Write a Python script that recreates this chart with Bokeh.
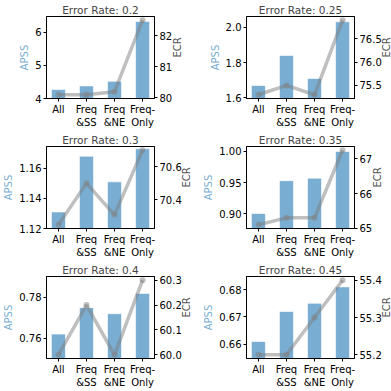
import math
from bokeh.plotting import figure
from bokeh.layouts import gridplot
from bokeh.models import Range1d, LinearAxis, FixedTicker, NumeralTickFormatter
from bokeh.embed import file_html
from bokeh.resources import INLINE

methods = ["All", "Freq\n&SS", "Freq\n&NE", "Freq-\nOnly"]
error_rates = ["0.2", "0.25", "0.3", "0.35", "0.4", "0.45"]

apss_02 = [4.27, 4.38, 4.52, 6.33]
apss_025 = [1.67, 1.84, 1.71, 2.03]
apss_03 = [1.131, 1.168, 1.151, 1.173]
apss_035 = [0.900, 0.953, 0.957, 1.000]
apss_04 = [0.762, 0.775, 0.772, 0.782]
apss_045 = [0.661, 0.672, 0.675, 0.681]

ecr_02 = [80.1, 80.1, 80.2, 82.5]
ecr_025 = [75.3, 75.5, 75.3, 76.9]
ecr_03 = [70.25, 70.50, 70.31, 70.70]
ecr_035 = [65.1, 65.3, 65.3, 67.25]
ecr_04 = [60.0, 60.2, 60.0, 60.3]
ecr_045 = [55.2, 55.2, 55.3, 55.4]

apss_all = [apss_02, apss_025, apss_03, apss_035, apss_04, apss_045]
ecr_all = [ecr_02, ecr_025, ecr_03, ecr_035, ecr_04, ecr_045]

apss_limits = [(4.0, 6.48), (1.597, 2.06), (1.12, 1.1745), (0.876, 1.008), (0.75, 0.7903), (0.6548, 0.6848)]
apss_ticks = [[4, 5, 6], [1.6, 1.8, 2.0], [1.12, 1.14, 1.16], [0.90, 0.95, 1.00], [0.76, 0.78], [0.66, 0.67, 0.68]]
ecr_ticks = [[80, 81, 82], [75.5, 76.0, 76.5], [70.4, 70.6], [65, 66, 67], [60.0, 60.1, 60.2, 60.3], [55.2, 55.3, 55.4]]
apss_fmt = ["0", "0.0", "0.00", "0.00", "0.00", "0.00"]
ecr_fmt = ["0", "0.0", "0.0", "0", "0.0", "0.0"]

FONT = "DejaVu Sans"
BAR_BLUE = "#1f77b4"
LABEL_BLUE = "#79add2"
FRAME_W = 108
FRAME_H = 82


def style_axis(ax):
    ax.major_label_text_font = FONT
    ax.major_label_text_font_size = "10px"
    ax.major_label_text_color = "black"
    ax.axis_label_text_font = FONT
    ax.axis_label_text_font_size = "10px"
    ax.axis_label_text_font_style = "normal"
    ax.axis_line_color = "black"
    ax.axis_line_width = 1
    ax.major_tick_line_color = "black"
    ax.major_tick_out = 3
    ax.major_tick_in = 0
    ax.minor_tick_line_color = None
    ax.major_label_standoff = 2
    ax.axis_label_standoff = 2


def make_panel(i, left_border, right_border):
    apss = apss_all[i]
    ecr = ecr_all[i]
    xs = list(range(len(methods)))
    lo, hi = apss_limits[i]
    emin, emax = min(ecr), max(ecr)
    pad = 0.05 * (emax - emin)
    p = figure(frame_width=FRAME_W, frame_height=FRAME_H, output_backend="svg", toolbar_location=None,
               x_range=Range1d(-0.425, 3.425), y_range=Range1d(lo, hi),
               min_border_left=left_border, min_border_right=right_border,
               min_border_top=15, min_border_bottom=28)
    p.title.text = "Error Rate: " + error_rates[i]
    p.title.align = "center"
    p.title.text_font = FONT
    p.title.text_font_size = "10.5px"
    p.title.text_font_style = "normal"
    p.title.standoff = 2
    p.xgrid.visible = False
    p.ygrid.visible = False
    p.outline_line_color = "black"
    p.outline_line_width = 1
    p.background_fill_color = "white"
    p.border_fill_color = "white"

    p.vbar(x=xs, top=apss, bottom=0, width=0.5, fill_color=BAR_BLUE, fill_alpha=0.6,
           line_color="white", line_alpha=0.6, line_width=1)

    p.extra_y_ranges = {"ecr": Range1d(emin - pad, emax + pad)}
    p.line(xs, ecr, y_range_name="ecr", line_color="gray", line_alpha=0.5, line_width=3.5)
    p.scatter(xs, ecr, y_range_name="ecr", size=6, fill_color="gray", fill_alpha=0.5, line_color=None)

    xa = p.xaxis[0]
    xa.ticker = FixedTicker(ticks=xs)
    xa.major_label_overrides = {k: m for k, m in zip(xs, methods)}
    style_axis(xa)

    ya = p.yaxis[0]
    ya.ticker = FixedTicker(ticks=apss_ticks[i])
    ya.formatter = NumeralTickFormatter(format=apss_fmt[i])
    ya.axis_label = "APSS"
    style_axis(ya)
    ya.axis_label_text_color = LABEL_BLUE

    ra = LinearAxis(y_range_name="ecr", axis_label="ECR",
                    ticker=FixedTicker(ticks=ecr_ticks[i]),
                    formatter=NumeralTickFormatter(format=ecr_fmt[i]))
    style_axis(ra)
    ra.axis_label_text_color = "#555555"
    props = ra.properties()
    if "axis_label_orientation" in props:
        ra.axis_label_orientation = math.pi / 2
    if "axis_label_align" in props:
        ra.axis_label_align = "center"
    p.add_layout(ra, "right")
    return p


panels = []
for i in range(6):
    if i % 2 == 0:
        panels.append(make_panel(i, 35, 40))
    else:
        panels.append(make_panel(i, 36, 40))

grid = gridplot([[panels[0], panels[1]], [panels[2], panels[3]], [panels[4], panels[5]]],
                toolbar_location=None)

open("out.html", "w").write(file_html(grid, INLINE))
